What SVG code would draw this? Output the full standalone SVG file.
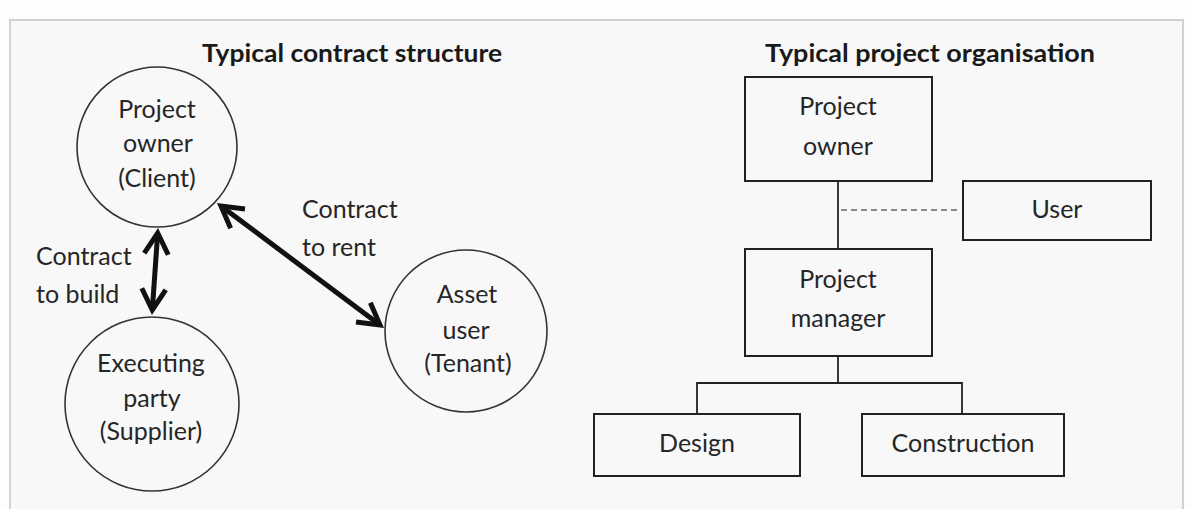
<svg xmlns="http://www.w3.org/2000/svg" width="1192" height="509" viewBox="0 0 1192 509">
<style>
text{font-family:Lato,"Open Sans","Liberation Sans",sans-serif;fill:#262626;text-anchor:middle}
.t{font-size:25px}
.h{font-size:24px;font-weight:bold;fill:#1a1a1a}
.lbl{font-size:25px;text-anchor:start}
.c{fill:none;stroke:#333;stroke-width:1.6}
.b{fill:none;stroke:#222;stroke-width:2}
.ln{fill:none;stroke:#222;stroke-width:1.8}
.arr{fill:none;stroke:#111;stroke-width:5;marker-start:url(#ah);marker-end:url(#ah)}
</style>
<defs>
<marker id="ah" markerUnits="userSpaceOnUse" viewBox="0 0 34 30" markerWidth="34" markerHeight="30" refX="26" refY="15" orient="auto-start-reverse">
<path d="M5,3 L26,15 L5,27" fill="none" stroke="#111" stroke-width="5"/>
</marker>
</defs>
<rect x="0" y="0" width="1192" height="509" fill="#fdfdfd"/>
<rect x="10" y="20" width="1173" height="500" fill="#f8f8f8" stroke="#d2d2d2" stroke-width="2"/>
<text class="h" x="352" y="62" textLength="300" lengthAdjust="spacingAndGlyphs">Typical contract structure</text>
<text class="h" x="930" y="62" textLength="330" lengthAdjust="spacingAndGlyphs">Typical project organisation</text>
<g id="conn">
<line class="arr" x1="157.7" y1="233" x2="152.3" y2="310"/>
<line class="arr" x1="221" y1="206" x2="380" y2="325"/>
<text class="lbl" x="36" y="265">Contract</text>
<text class="lbl" x="36" y="303">to build</text>
<text class="lbl" x="302" y="218">Contract</text>
<text class="lbl" x="302" y="256">to rent</text>
<line class="ln" x1="838" y1="181" x2="838" y2="249"/>
<line x1="841" y1="210" x2="957" y2="210" stroke="#8a8a8a" stroke-width="2.2" stroke-dasharray="6,4"/>
<polyline class="ln" points="838,356 838,383"/>
<polyline class="ln" points="697,414 697,383 962,383 962,414"/>
</g>
<g id="n-owner-c">
<ellipse class="c" cx="157" cy="147" rx="80" ry="80"/>
<text class="t" x="157" y="118">Project</text>
<text class="t" x="158" y="152">owner</text>
<text class="t" x="157" y="187">(Client)</text>
</g>
<g id="n-exec">
<ellipse class="c" cx="152" cy="404" rx="87" ry="87"/>
<text class="t" x="151" y="372">Executing</text>
<text class="t" x="152" y="407">party</text>
<text class="t" x="151" y="440">(Supplier)</text>
</g>
<g id="n-asset">
<ellipse class="c" cx="466" cy="331" rx="81" ry="81"/>
<text class="t" x="467" y="303">Asset</text>
<text class="t" x="466" y="339">user</text>
<text class="t" x="468" y="372">(Tenant)</text>
</g>
<g id="n-owner-b">
<rect class="b" x="745" y="77" width="187" height="104"/>
<text class="t" x="838" y="115">Project</text>
<text class="t" x="838" y="155">owner</text>
</g>
<g id="n-user">
<rect class="b" x="963" y="181" width="188" height="59"/>
<text class="t" x="1057" y="218">User</text>
</g>
<g id="n-pm">
<rect class="b" x="745" y="249" width="187" height="107"/>
<text class="t" x="838" y="288">Project</text>
<text class="t" x="838" y="327">manager</text>
</g>
<g id="n-design">
<rect class="b" x="594" y="414" width="206" height="62"/>
<text class="t" x="697" y="452">Design</text>
</g>
<g id="n-constr">
<rect class="b" x="862" y="414" width="202" height="62"/>
<text class="t" x="963" y="452">Construction</text>
</g>
</svg>
